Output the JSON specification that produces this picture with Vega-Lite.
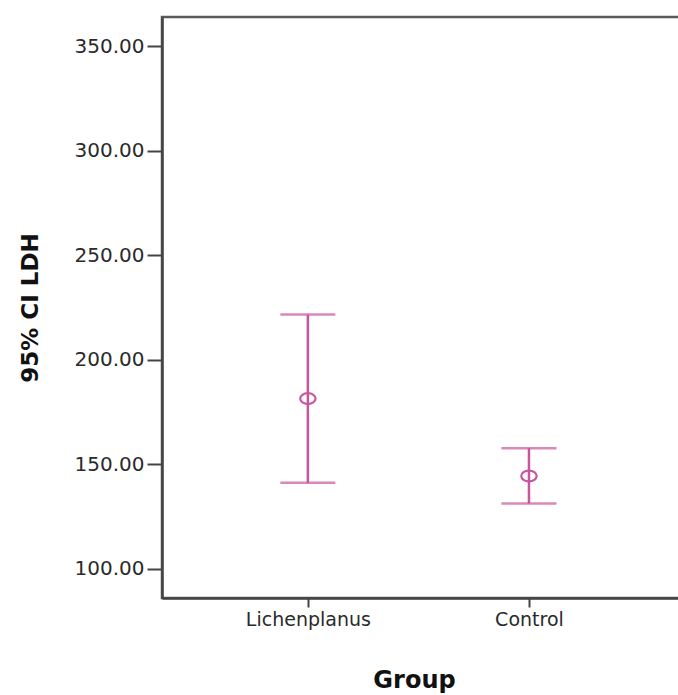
{
  "$schema": "https://vega.github.io/schema/vega-lite/v6.json",
  "autosize": "none",
  "padding": {"left": 162, "top": 17, "right": 0, "bottom": 97},
  "width": 520,
  "height": 581,
  "background": "white",
  "config": {
    "view": {"stroke": "#5a5a5a", "strokeWidth": 2.5},
    "axis": {"grid": false, "domainColor": "#444", "domainWidth": 2.5, "tickColor": "#444", "tickWidth": 2, "labelColor": "#2a2a2a", "labelFont": "DejaVu Sans", "labelFontSize": 20, "titleFont": "DejaVu Sans", "titleFontWeight": "bold", "titleColor": "#111"}
  },
  "data": {"values": [
    {"group": "Lichenplanus", "lower": 141.0, "mean": 181.3, "upper": 221.5},
    {"group": "Control", "lower": 131.1, "mean": 144.3, "upper": 157.6}
  ]},
  "encoding": {
    "x": {"field": "group", "type": "nominal", "sort": ["Lichenplanus", "Control"],
      "scale": {"type": "point", "padding": 0.676, "align": 0.488},
      "axis": {"title": "Group", "labelAngle": 0, "tickSize": 9, "labelPadding": 3, "labelFontSize": 19, "titleFontSize": 24, "titleX": 252, "titleY": 89, "titleBaseline": "alphabetic"}}
  },
  "layer": [
    {"mark": {"type": "rule", "color": "#c9559d", "strokeWidth": 2.5},
     "encoding": {
       "y": {"field": "lower", "type": "quantitative",
         "scale": {"domain": [85.9, 363.9], "nice": false, "zero": false},
         "axis": {"title": "95% CI LDH", "values": [100, 150, 200, 250, 300, 350], "format": ".2f", "tickSize": 15, "labelPadding": 3, "titleFontSize": 23, "titleX": -132, "titleY": 290.5, "titleBaseline": "middle", "titleAlign": "center"}},
       "y2": {"field": "upper"}
     }},
    {"mark": {"type": "tick", "color": "#c9559d", "thickness": 2.5, "size": 55},
     "encoding": {"y": {"field": "upper", "type": "quantitative"}}},
    {"mark": {"type": "tick", "color": "#c9559d", "thickness": 2.5, "size": 55},
     "encoding": {"y": {"field": "lower", "type": "quantitative"}}},
    {"mark": {"type": "point", "filled": false, "color": "#c9559d", "strokeWidth": 2.2, "opacity": 1,
       "shape": "M-1.35,0A1.35,0.95,0,1,1,1.35,0A1.35,0.95,0,1,1,-1.35,0Z", "size": 130},
     "encoding": {"y": {"field": "mean", "type": "quantitative"}}}
  ]
}
